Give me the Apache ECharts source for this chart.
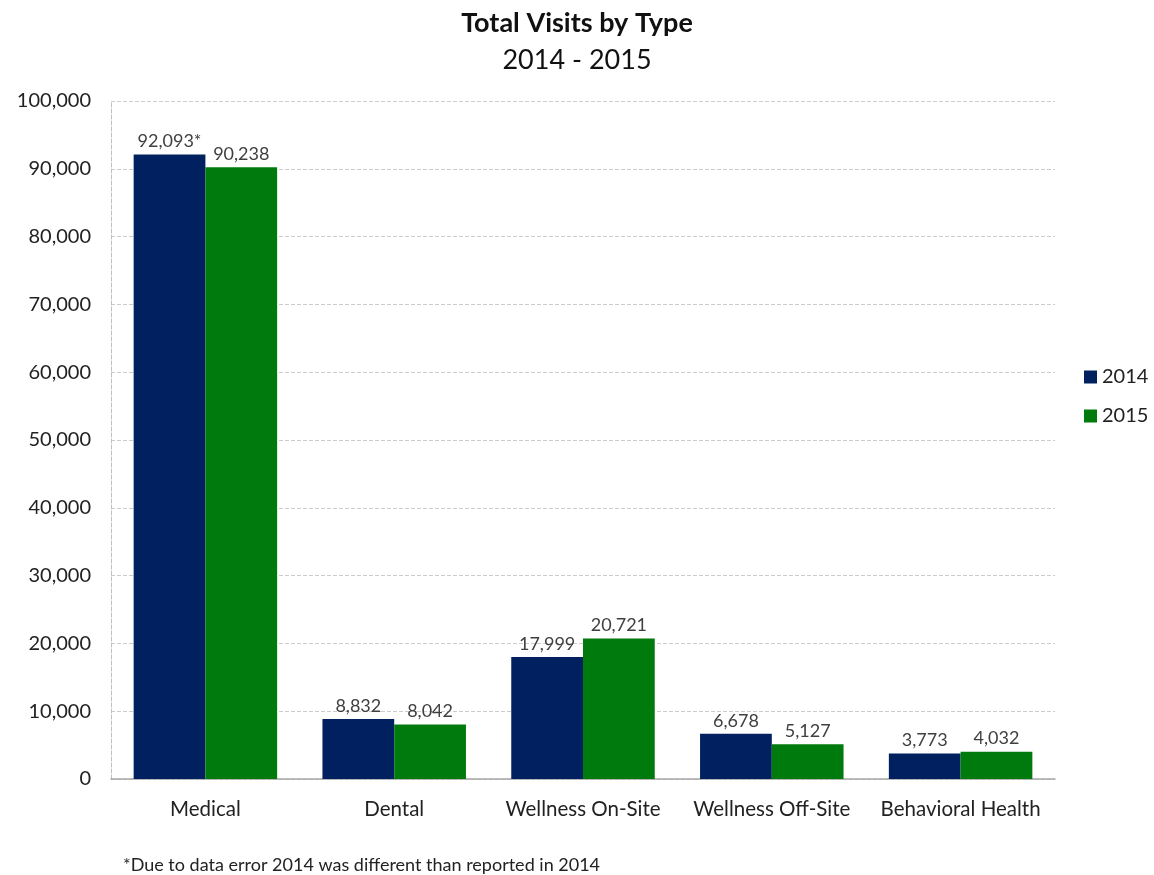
<!DOCTYPE html>
<html>
<head>
<meta charset="utf-8">
<script src="https://cdn.jsdelivr.net/npm/echarts@6/dist/echarts.min.js"></script>
<style>
  html, body { margin: 0; padding: 0; background: #ffffff; }
  #chart { width: 1154px; height: 875px; }
</style>
</head>
<body>
<div id="chart"></div>
<script>
// Visit counts by service type, two years side by side
const categories = ['Medical', 'Dental', 'Wellness On-Site', 'Wellness Off-Site', 'Behavioral Health'];
const visits2014 = [92093, 8832, 17999, 6678, 3773];
const visits2015 = [90238, 8042, 20721, 5127, 4032];
const seriesNames = ['2014', '2015'];
// 2014 Medical figure was restated, flagged with an asterisk
const flagged2014 = [true, false, false, false, false];

const FONT = 'Lato, "Open Sans", sans-serif';
const fmt = v => v.toLocaleString('en-US');

const chart = echarts.init(document.getElementById('chart'), null, { renderer: 'canvas' });

const labelStyle = {
  show: true,
  position: 'top',
  distance: 4,
  color: '#404040',
  fontFamily: FONT,
  fontSize: 18
};

chart.setOption({
  backgroundColor: '#ffffff',
  animation: false,
  title: [
    {
      text: 'Total Visits by Type',
      left: 'center',
      top: 5,
      textStyle: { fontFamily: FONT, fontSize: 27, fontWeight: 'bold', color: '#111111' }
    },
    {
      text: '2014 - 2015',
      left: 'center',
      top: 42,
      textStyle: { fontFamily: FONT, fontSize: 27, fontWeight: 'normal', color: '#111111' }
    },
    {
      text: '*Due to data error 2014 was different than reported in 2014',
      left: 118,
      top: 851,
      textStyle: { fontFamily: FONT, fontSize: 18, fontWeight: 'normal', color: '#222222' }
    }
  ],
  legend: {
    orient: 'vertical',
    left: 1079,
    top: 362,
    itemWidth: 13,
    itemHeight: 13,
    itemGap: 19,
    icon: 'rect',
    textStyle: { fontFamily: FONT, fontSize: 20, color: '#222222' },
    data: seriesNames
  },
  grid: { left: 111, right: 99, top: 101, bottom: 96 },
  xAxis: {
    type: 'category',
    data: categories,
    axisTick: { show: false },
    axisLine: { show: true, lineStyle: { color: '#a6a6a6', width: 1.5 } },
    axisLabel: {
      interval: 0,
      hideOverlap: false,
      fontFamily: FONT, fontSize: 20.5, color: '#222222', margin: 20
    }
  },
  yAxis: {
    type: 'value',
    min: 0,
    max: 100000,
    interval: 10000,
    axisLine: { show: true, lineStyle: { color: '#bfbfbf', type: 'dashed' } },
    axisTick: { show: false },
    axisLabel: {
      fontFamily: FONT, fontSize: 20, color: '#222222', margin: 20,
      formatter: v => fmt(v)
    },
    splitLine: { show: true, lineStyle: { color: '#cccccc', type: 'dashed' } }
  },
  series: [
    {
      name: seriesNames[0],
      type: 'bar',
      data: visits2014,
      barGap: '0%',
      barCategoryGap: '24%',
      itemStyle: { color: '#00205f' },
      label: Object.assign({}, labelStyle, {
        formatter: p => fmt(p.value) + (flagged2014[p.dataIndex] ? '*' : '')
      })
    },
    {
      name: seriesNames[1],
      type: 'bar',
      data: visits2015,
      barGap: '0%',
      barCategoryGap: '24%',
      itemStyle: { color: '#007a0c' },
      label: Object.assign({}, labelStyle, { formatter: p => fmt(p.value) })
    }
  ]
});
</script>
</body>
</html>
